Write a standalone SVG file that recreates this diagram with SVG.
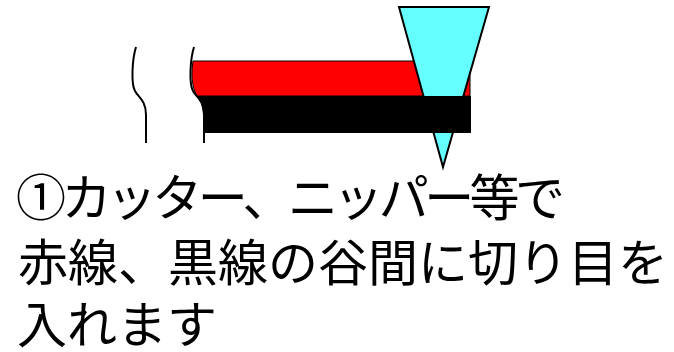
<svg xmlns="http://www.w3.org/2000/svg" width="674" height="352" viewBox="0 0 674 352">
  <style>
    .cap { font-family: "Noto Sans CJK JP", "Noto Sans", sans-serif; font-size: 50px; fill: #000; }
    .cut { fill: none; stroke: #000; stroke-width: 2; }
  </style>
  <rect width="674" height="352" fill="#fff"/>
  <g id="wire">
    <!-- red sheath -->
    <path id="red-wire" d="M193,61 L470,61 L470,96 L197,96 C194,91 190,80 193,61 Z" fill="#ff0000" stroke="#000" stroke-width="1"/>
    <!-- blade -->
    <path id="blade" d="M399,7 L489,7 L443,167 Z" fill="#66ffff" stroke="#000" stroke-width="2" stroke-linejoin="miter"/>
    <!-- black sheath -->
    <path id="black-wire" d="M197,96 L471,96 L471,133 L204,133 C204,116 203,103 197,96 Z" fill="#000"/>
  </g>
  <g id="breaks">
    <path class="cut" d="M136,47 C132,60 131,84 135,91 C138,97 146,100 146,115 L146,143"/>
    <path class="cut" d="M194,47 C190,60 189,84 193,91 C196,97 204,100 204,115 L204,143"/>
  </g>
  <g id="caption">
    <text class="cap" x="16" y="216" textLength="549" lengthAdjust="spacing">①カッター、ニッパー等で</text>
    <text class="cap" x="18" y="281">赤線、黒線の谷間に切り目を</text>
    <text class="cap" x="17" y="343">入れます</text>
  </g>
</svg>
